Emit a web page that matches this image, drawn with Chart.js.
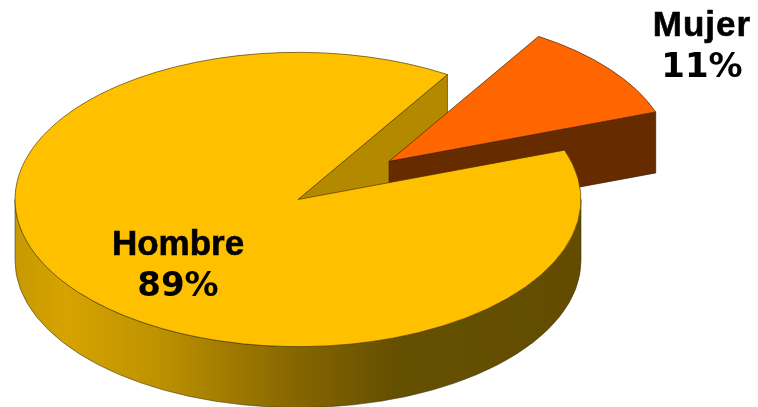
<!DOCTYPE html>
<html><head><meta charset="utf-8">
<style>html,body{margin:0;padding:0;background:#fff;width:758px;height:407px;overflow:hidden}canvas{display:block;filter:blur(0.4px)}</style>
<script src="https://cdn.jsdelivr.net/npm/chart.js@4"></script>
</head><body><canvas id="c" width="758" height="407"></canvas>
<script>
const categories = ["Hombre", "Mujer"];
const shares = [89.3, 10.7];
const shareLabels = ["89%", "11%"];
const sliceColors = ["#FFC000", "#FF6600"];
const pullOut = [0, 117];

const SQUASH = 0.52, DEPTH = 61;
const labelAnchors = [[178, 255], [702, 36]];

function geom(el, pull) {
  const mid = (el.startAngle + el.endAngle) / 2;
  const cx = el.x + Math.cos(mid) * pull, cy = el.y + Math.sin(mid) * pull * SQUASH;
  const r = el.outerRadius;
  const pt = a => [cx + Math.cos(a) * r, cy + Math.sin(a) * r * SQUASH];
  return {x: el.x, y: el.y, startAngle: el.startAngle, endAngle: el.endAngle, r, cx, cy, pt};
}
function poly(ctx, pts, fill, stroke) {
  ctx.beginPath();
  pts.forEach((q, i) => i ? ctx.lineTo(q[0], q[1]) : ctx.moveTo(q[0], q[1]));
  ctx.closePath();
  ctx.fillStyle = fill; ctx.fill();
  ctx.strokeStyle = stroke; ctx.lineWidth = 0.8; ctx.stroke();
}
const pie3d = {
  id: 'pie3d',
  beforeDatasetsDraw(chart) {
    const ctx = chart.ctx, arcs = chart.getDatasetMeta(0).data;
    const main = geom(arcs[0], pullOut[0]), side = geom(arcs[1], pullOut[1]);
    arcs.forEach((el, i) => {
      const mid = (el.startAngle + el.endAngle) / 2, d = pullOut[i];
      el.draw = function (c, area) {
        c.save();
        c.translate(Math.cos(mid) * d, Math.sin(mid) * d);
        Chart.ArcElement.prototype.draw.call(this, c, area);
        c.restore();
      };
    });
    ctx.save();
    const a = main.pt(main.endAngle);
    poly(ctx, [[main.cx, main.cy], a, [a[0], a[1] + DEPTH], [main.cx, main.cy + DEPTH]], '#B38900', 'rgba(70,50,0,.8)');
    const b = side.pt(side.endAngle);
    poly(ctx, [[side.cx, side.cy], b, [b[0], b[1] + DEPTH], [side.cx, side.cy + DEPTH]], '#662C00', 'rgba(50,20,0,.8)');
    const r = main.r, left = main.cx - r;
    const g = ctx.createLinearGradient(left, 0, left + 2 * r, 0);
    g.addColorStop(0, '#C89A00'); g.addColorStop(0.09, '#D6A300'); g.addColorStop(0.25, '#BE9200');
    g.addColorStop(0.5, '#856500'); g.addColorStop(0.67, '#655000'); g.addColorStop(1, '#634C00');
    ctx.beginPath();
    ctx.ellipse(main.cx, main.cy, r, r * SQUASH, 0, 0, Math.PI);
    ctx.ellipse(main.cx, main.cy + DEPTH, r, r * SQUASH, 0, Math.PI, 0, true);
    ctx.closePath();
    ctx.fillStyle = g; ctx.fill();
    ctx.strokeStyle = 'rgba(60,50,20,.7)'; ctx.lineWidth = 0.8; ctx.stroke();
    ctx.restore();
    ctx.save();
    ctx.translate(main.x, main.y); ctx.scale(1, SQUASH); ctx.translate(-main.x, -main.y);
  },
  afterDatasetsDraw(chart) {
    const ctx = chart.ctx;
    ctx.restore();
    ctx.save();
    ctx.fillStyle = '#000';
    ctx.strokeStyle = '#000';
    ctx.textAlign = 'center';
    categories.forEach((name, i) => {
      const [x, y] = labelAnchors[i];
      ctx.font = 'bold 35px "Liberation Sans"';
      ctx.letterSpacing = i === 1 ? '1px' : '0px';
      ctx.lineWidth = 0.6;
      ctx.fillText(name, x, y);
      ctx.strokeText(name, x, y);
      ctx.letterSpacing = '0px';
      ctx.font = 'bold 34px "DejaVu Sans"';
      ctx.fillText(shareLabels[i], x, y + 41);
    });
    ctx.restore();
  }
};
new Chart(document.getElementById('c'), {
  type: 'pie',
  data: { labels: categories, datasets: [{
    data: shares, backgroundColor: sliceColors,
    borderColor: ['rgba(70,50,0,.85)', 'rgba(60,30,0,.85)'], borderWidth: 1,
    clip: false
  }]},
  options: {
    responsive: false, animation: false, devicePixelRatio: 1,
    radius: 283, cutout: '0%', rotation: 70.4,
    layout: { padding: { left: 0, right: 162, top: 0, bottom: 8 } },
    plugins: { legend: { display: false }, tooltip: { enabled: false } }
  },
  plugins: [pie3d]
});
</script></body></html>
